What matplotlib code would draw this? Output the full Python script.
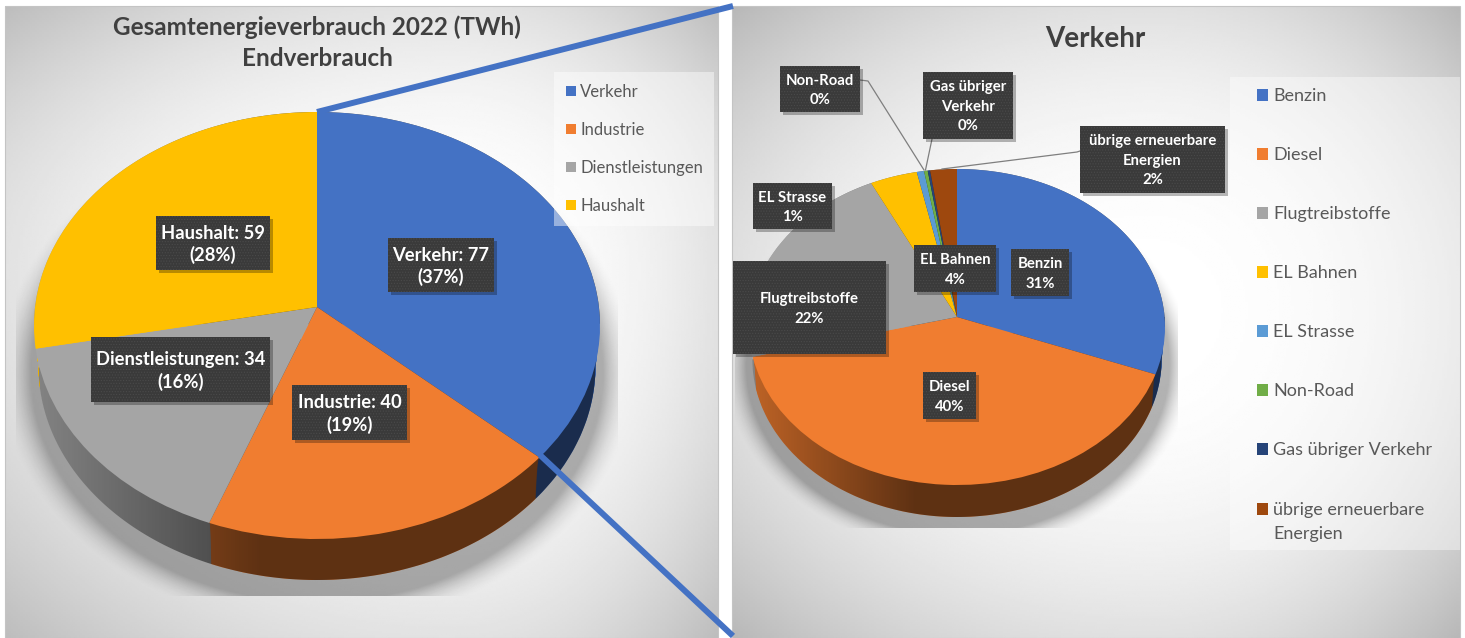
import numpy as np
import matplotlib
matplotlib.use("Agg")
import matplotlib.pyplot as plt
from matplotlib.patches import Rectangle, Polygon
from matplotlib.transforms import Transform

plt.rcParams['font.family'] = ['Lato', 'DejaVu Sans']
plt.rcParams['hatch.linewidth'] = 0.5

# ---- data -------------------------------------------------------------
main_categories = ["Verkehr", "Industrie", "Dienstleistungen", "Haushalt"]
main_values = [77, 40, 34, 59]
main_colors = ["#4472C4", "#F07D30", "#A5A5A5", "#FFC000"]
main_labels = ["Verkehr: 77\n(37%)", "Industrie: 40\n(19%)",
               "Dienstleistungen: 34\n(16%)", "Haushalt: 59\n(28%)"]

traffic_categories = ["Benzin", "Diesel", "Flugtreibstoffe", "EL Bahnen", "EL Strasse",
                      "Non-Road", "Gas übriger Verkehr", "übrige erneuerbare\nEnergien"]
traffic_values = [30.8, 40.2, 21.8, 3.9, 0.6, 0.3, 0.2, 2.2]
traffic_colors = ["#4472C4", "#F07D30", "#A5A5A5", "#FFC000",
                  "#5B9BD5", "#70AD47", "#264478", "#9E480E"]
traffic_labels = ["Benzin\n31%", "Diesel\n40%", "Flugtreibstoffe\n22%", "EL Bahnen\n4%",
                  "EL Strasse\n1%", "Non-Road\n0%", "Gas übriger\nVerkehr\n0%",
                  "übrige erneuerbare\nEnergien\n2%"]

W, H = 1465, 638
fig = plt.figure(figsize=(W / 100, H / 100), dpi=100, facecolor="white")
ax = fig.add_axes([0, 0, 1, 1])


class Persp(Transform):
    """Tilted-disc projection of the unit-circle pie onto pixel coordinates."""
    input_dims = output_dims = 2

    def __init__(self, cx, cy, b, a, k):
        super().__init__()
        self.p = (cx, cy, b, a, k)

    def transform_non_affine(self, xy):
        cx, cy, b, a, k = self.p
        xy = np.asarray(xy, float)
        w = 1 + k * xy[:, 1]
        return np.column_stack([cx + b * xy[:, 0] / w, cy - a * xy[:, 1] / w])


def panel(x0, x1, y0, y1, fx, fy, low, z=0):
    xs = np.linspace(x0, x1, 300)
    ys = np.linspace(y0, y1, 300)
    X, Y = np.meshgrid(xs, ys)
    dx = (X - fx) / np.where(X < fx, fx - x0, x1 - fx)
    dy = (Y - fy) / np.where(Y < fy, fy - y0, y1 - fy)
    r = np.clip(np.sqrt((dx ** 2 + dy ** 2) / 2), 0, 1)
    v = 1 - (1 - low) * r ** 2.4
    ax.imshow(v, extent=(x0, x1, y1, y0), cmap="gray", vmin=0, vmax=1,
              aspect="auto", zorder=z, interpolation="bilinear")
    ax.add_patch(Rectangle((x0, y0), x1 - x0, y1 - y0, fill=False, ec="#c4c4c4", lw=0.8, zorder=z + .1))


def shadow(cx, cy, rx, ry, x0, x1, y0, y1, z=1):
    xs = np.linspace(x0, x1, 300)
    ys = np.linspace(y0, y1, 300)
    X, Y = np.meshgrid(xs, ys)
    rho = np.sqrt(((X - cx) / rx) ** 2 + ((Y - cy) / ry) ** 2)
    a = 0.30 * np.clip((1.08 - rho) / 0.11, 0, 1) ** 1.8
    img = np.zeros(X.shape + (4,))
    img[..., 3] = a
    ax.imshow(img, extent=(x0, x1, y1, y0), aspect="auto", zorder=z, interpolation="bilinear")


def disc(values, colors, cx, cy, rx, top, bottom, depth, z=2):
    up, down = cy - top, bottom - cy
    a = 2 / (1 / up + 1 / down)
    k = a / up - 1
    b = rx * np.sqrt(1 - k * k)
    shrink = 0.016
    for d in range(depth, -1, -1):
        wedges, _ = ax.pie(values, colors=colors, startangle=90, counterclock=False,
                           radius=1, center=(0, 0), normalize=True, frame=False,
                           wedgeprops=dict(lw=0, antialiased=True))
        tr = Persp(cx, cy + d, b * (1 - shrink * (d / depth) ** 0.5), a, k) + ax.transData
        for w in wedges:
            w.set_transform(tr)
            w.set_zorder(z + 1 if d == 0 else z)
    # rim shading, darker toward the middle and the right
    t = np.linspace(0, 2 * np.pi, 720)
    ring = np.column_stack([np.cos(t), np.sin(t)])
    p = Persp(cx, cy, b, a, k).transform_non_affine(ring)
    q = Persp(cx, cy + depth, b * (1 - shrink), a, k).transform_non_affine(ring)
    upper = np.sin(t) > -k
    up_pts = p[upper]
    lo = q[~upper]
    up_pts = up_pts[np.argsort(np.arctan2(cy - up_pts[:, 1], up_pts[:, 0] - cx) % (2 * np.pi))]
    lo = lo[np.argsort(np.arctan2(cy + depth - lo[:, 1], lo[:, 0] - cx) % (2 * np.pi))]
    hull = Polygon(np.vstack([up_pts, lo]), closed=True, transform=ax.transData, fill=False, lw=0)
    ax.add_patch(hull)
    x0, x1 = cx - rx - 2, cx + rx + 2
    xs = np.linspace(0, 1, 400)
    f = np.interp(xs, [0, 0.40, 1], [0.80, 0.39, 0.39])
    img = np.zeros((1, 400, 4))
    img[..., 3] = 1 - f
    im = ax.imshow(img, extent=(x0, x1, bottom + depth + 4, top), aspect="auto",
                   zorder=z + .5, interpolation="bilinear")
    im.set_clip_path(hull)
    return b, a, k


def label(txt, x0, x1, y0, y1, size, ls=1.28, z=8):
    ax.add_patch(Rectangle((x0 + 3, y0 + 3), x1 - x0, y1 - y0, fc="black", alpha=0.28, lw=0, zorder=z))
    ax.add_patch(Rectangle((x0, y0), x1 - x0, y1 - y0, fc="#3a3a3a", ec="#4a4a4a", lw=0,
                           hatch="......", zorder=z + .1))
    ax.text((x0 + x1) / 2, (y0 + y1) / 2 + 1.5, txt, color="white", fontsize=size, fontweight="bold",
            ha="center", va="center", linespacing=ls, zorder=z + .2)


def legend(names, colors, mx0, mx1, tx, ys, size, ms):
    for n, c, y in zip(names, colors, ys):
        ax.add_patch(Rectangle((mx0, y - ms / 2), mx1 - mx0, ms, fc=c, lw=0, zorder=7))
        first = n.split("\n")[0]
        ax.text(tx, y + 1, first, fontsize=size, color="#595959", va="center", ha="left", zorder=7)
        if "\n" in n:
            ax.text(tx, y + 25, n.split("\n")[1], fontsize=size, color="#595959",
                    va="center", ha="left", zorder=7)


# ---- panels -----------------------------------------------------------
panel(5, 718, 6, 638, 450, 270, 0.74)
panel(732, 1460, 6, 638, 1150, 310, 0.72)

# ---- left pie ---------------------------------------------------------
shadow(317, 372, 296, 238, 16, 618, 200, 596)
disc(main_values, main_colors, 317, 307, 283, 112, 539, 41)
ax.add_patch(Rectangle((554, 72), 160, 154, fc="white", alpha=0.45, lw=0, zorder=6))
ax.text(317, 27, "Gesamtenergieverbrauch 2022 (TWh)", fontsize=17.5, fontweight="bold",
        color="#404040", ha="center", va="center", zorder=7)
ax.text(317, 58, "Endverbrauch", fontsize=17.5, fontweight="bold",
        color="#404040", ha="center", va="center", zorder=7)
legend(main_categories, main_colors, 566, 576, 580, [91, 129, 167, 205], 12, 10)
label(main_labels[0], 388, 494, 238, 292, 13.2)
label(main_labels[1], 292, 407, 385, 440, 13.2)
label(main_labels[2], 91, 270, 337, 402, 13.2)
label(main_labels[3], 156, 270, 216, 270, 13.2)

# ---- right pie --------------------------------------------------------
shadow(958, 365, 219, 175, 735, 1178, 220, 528)
disc(traffic_values, traffic_colors, 957, 317, 208, 169, 485, 32)
ax.add_patch(Rectangle((1230, 77), 230, 473, fc="white", alpha=0.4, lw=0, zorder=6))
ax.text(1095, 39, "Verkehr", fontsize=20, fontweight="bold", color="#404040",
        ha="center", va="center", zorder=7)
legend(traffic_categories, traffic_colors, 1257, 1268, 1273,
       [95, 154, 213, 272, 331, 390, 449, 509], 13, 12)

for xs, ys in [((860, 868, 924), (80, 81, 170)),
               ((932, 925.5), (139, 170)),
               ((1080, 1077, 942), (151, 152, 169))]:
    ax.plot(xs, ys, color="#7f7f7f", lw=0.9, zorder=5, scalex=False, scaley=False)

label(traffic_labels[0], 1011, 1069, 249, 296, 10.7, 1.5)
label(traffic_labels[1], 923, 976, 372, 419, 10.7, 1.5)
label(traffic_labels[2], 733, 886, 261, 354, 10.7, 1.5)
label(traffic_labels[3], 914, 996, 245, 292, 10.7, 1.5)
label(traffic_labels[4], 753, 832, 183, 229, 10.7, 1.5)
label(traffic_labels[5], 780, 860, 66, 112, 10.7, 1.5)
label(traffic_labels[6], 923, 1013, 72, 139, 10.7, 1.5)
label(traffic_labels[7], 1080, 1225, 126, 193, 10.7, 1.5)

# ---- zoom connector lines ---------------------------------------------
ax.plot([317, 733], [112, 6], color="#4472C4", lw=4.3, solid_capstyle="butt", zorder=9,
        scalex=False, scaley=False)
ax.plot([540, 733], [455, 636], color="#4472C4", lw=4.3, solid_capstyle="butt", zorder=9,
        scalex=False, scaley=False)

ax.set_aspect("auto")
ax.set_xlim(0, W)
ax.set_ylim(H, 0)
ax.axis("off")
fig.savefig("out.png", dpi=100, facecolor="white")
